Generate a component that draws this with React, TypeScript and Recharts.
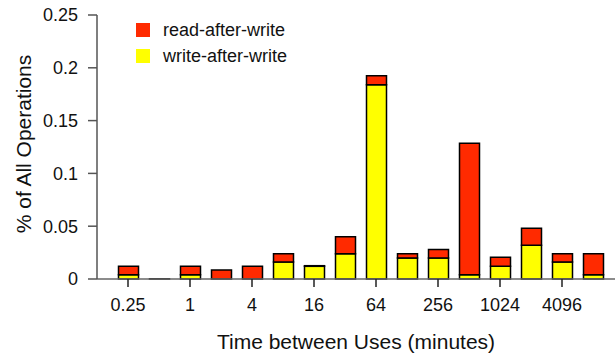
import React from 'react';
import { BarChart, Bar, XAxis, YAxis, Legend } from 'recharts';

const BUCKETS = ['0.25', '0.5', '1', '2', '4', '8', '16', '32', '64', '128', '256', '512', '1024', '2048', '4096', '8192'];
const WRITE_AFTER_WRITE = [0.004, 0.0002, 0.004, 0, 0, 0.016, 0.012, 0.024, 0.184, 0.02, 0.02, 0.004, 0.012, 0.032, 0.016, 0.004];
const READ_AFTER_WRITE = [0.008, 0, 0.008, 0.0085, 0.012, 0.008, 0.0006, 0.016, 0.0085, 0.004, 0.008, 0.1245, 0.0085, 0.016, 0.008, 0.02];
const Y_TICKS = [0, 0.05, 0.1, 0.15, 0.2, 0.25];

const DATA = BUCKETS.map((b, i) => ({
    bucket: b,
    waw: WRITE_AFTER_WRITE[i],
    raw: READ_AFTER_WRITE[i],
}));

const FONT = '"Liberation Sans", Arial, Helvetica, sans-serif';

function LegendBox({ payload }: any) {
    return (
        <div style={{ fontFamily: FONT, fontSize: 18, color: '#111' }}>
            {(payload || []).map((it: any) => (
                <div key={it.value} style={{ display: 'flex', alignItems: 'center', height: 26 }}>
                    <span style={{ width: 14, height: 14, background: it.color, marginRight: 13 }} />
                    {it.value}
                </div>
            ))}
        </div>
    );
}

export default function App() {
    return (
        <div style={{ position: 'absolute', left: 0, top: 0, background: '#fff' }}>
            <BarChart
                width={615}
                height={354}
                data={DATA}
                margin={{ top: 15, right: 0, left: 0, bottom: 0 }}
                barSize={20}
            >
                <XAxis
                    dataKey="bucket"
                    height={75}
                    interval={1}
                    padding={{ left: 15.5, right: 6.5 }}
                    axisLine={{ stroke: '#666', strokeWidth: 1.5 }}
                    tickLine={{ stroke: '#222', strokeWidth: 1.5 }}
                    tickSize={8}
                    tickMargin={11}
                    tick={{ fontSize: 18, fill: '#111', fontFamily: FONT }}
                    label={{ value: 'Time between Uses (minutes)', position: 'insideBottom', offset: 5, fontSize: 21, fill: '#111', fontFamily: FONT }}
                />
                <YAxis
                    width={97}
                    domain={[0, 0.25]}
                    ticks={Y_TICKS}
                    axisLine={{ stroke: '#555', strokeWidth: 1.5 }}
                    tickLine={{ stroke: '#555', strokeWidth: 1.5 }}
                    tickSize={9}
                    tickMargin={10}
                    tick={{ fontSize: 18, fill: '#111', fontFamily: FONT }}
                    label={{ value: '% of All Operations', angle: -90, position: 'insideLeft', dx: 19, dy: -3, fontSize: 21, fill: '#111', fontFamily: FONT, style: { textAnchor: 'middle' } }}
                />
                <Legend
                    layout="horizontal"
                    verticalAlign="middle"
                    align="center"
                    content={<LegendBox />}
                    wrapperStyle={{ left: 136, top: 17, width: 220 }}
                />
                <Bar dataKey="waw" name="write-after-write" stackId="a" fill="#ffff00" stroke="#000" strokeWidth={1.5} isAnimationActive={false} />
                <Bar dataKey="raw" name="read-after-write" stackId="a" fill="#ff2a00" stroke="#000" strokeWidth={1.5} isAnimationActive={false} />
            </BarChart>
        </div>
    );
}
